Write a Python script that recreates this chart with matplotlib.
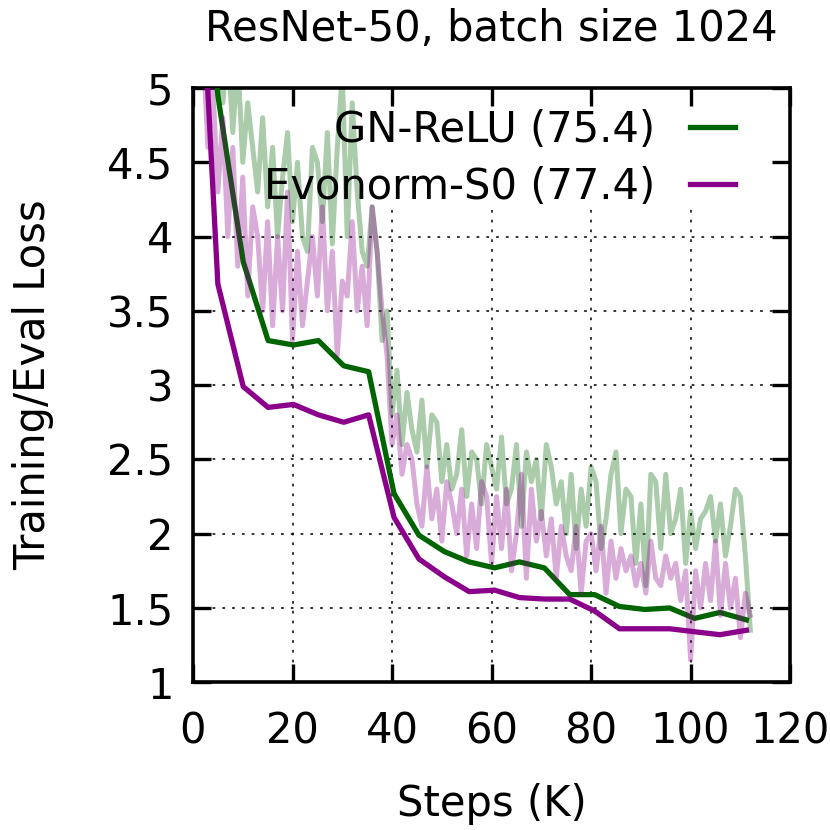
import matplotlib
matplotlib.use("Agg")
import matplotlib.pyplot as plt

# Training loss (light, noisy), logged every 1K steps
train_steps = list(range(2, 113))
gn_train = [6.0, 5.6, 5.3, 5.6, 4.9, 5.3, 4.7, 5.2, 4.5, 4.9,
            4.6, 4.3, 4.8, 4.2, 4.6, 4.0, 4.4, 4.7, 4.1, 4.5,
            4.0, 3.9, 4.6, 4.5, 4.1, 4.7, 3.95, 4.6, 5.1, 4.0,
            4.9, 4.3, 3.9, 3.8, 4.2, 3.9, 3.3, 3.5, 2.8, 3.1,
            2.6, 2.95, 2.7, 2.55, 2.9, 2.45, 2.8, 2.75, 2.35, 2.6,
            2.3, 2.4, 2.7, 2.25, 2.55, 2.5, 2.2, 2.6, 2.45, 2.3,
            2.65, 2.2, 2.3, 2.6, 2.05, 2.55, 2.35, 2.5, 2.1, 2.6,
            2.45, 2.2, 2.35, 2.0, 2.4, 1.9, 2.3, 2.05, 2.45, 2.35,
            1.9, 2.1, 2.4, 2.55, 2.0, 2.3, 2.25, 1.8, 2.2, 1.65,
            2.4, 2.35, 1.9, 2.4, 2.0, 2.1, 2.3, 1.8, 2.15, 1.9,
            2.1, 2.15, 2.25, 1.95, 2.2, 1.85, 2.05, 2.3, 2.25, 1.85,
            1.35]
evo_train = [5.3, 4.6, 5.0, 4.3, 4.8, 4.0, 4.6, 3.8, 4.4, 3.6,
             4.2, 4.0, 3.5, 4.1, 3.4, 4.0, 3.5, 4.3, 3.3, 3.9,
             3.4, 3.7, 4.0, 3.6, 4.2, 3.5, 3.9, 3.2, 3.7, 3.6,
             4.1, 3.5, 3.8, 3.4, 4.2, 3.9, 3.5, 3.2, 2.6, 2.8,
             2.4, 2.6, 2.5, 2.2, 2.05, 2.45, 2.1, 2.3, 1.95, 2.35,
             2.2, 2.0, 2.3, 1.85, 2.2, 1.9, 2.35, 2.25, 1.8, 2.25,
             1.9, 2.3, 1.75, 2.0, 2.4, 1.7, 2.3, 1.95, 2.15, 1.85,
             2.1, 1.7, 2.05, 1.85, 1.75, 2.05, 1.6, 1.95, 2.0, 1.75,
             2.05, 1.6, 1.95, 1.7, 1.9, 1.75, 1.85, 1.65, 1.8, 1.6,
             1.95, 1.7, 1.65, 1.85, 1.7, 1.8, 1.55, 1.75, 1.15, 1.75,
             1.5, 1.8, 1.55, 1.95, 1.45, 1.8, 1.5, 1.7, 1.3, 1.6,
             1.45]

# Eval loss (dark), roughly every 5K steps
eval_steps = [0, 5, 10.1, 15.1, 20.2, 25.2, 30.3, 35.3, 40.4, 45.4, 50.5, 55.5,
              60.6, 65.6, 70.6, 75.7, 80.7, 85.7, 90.8, 95.8, 100.8, 105.9, 111.2]
gn_eval = [6.9, 4.95, 3.83, 3.30, 3.27, 3.30, 3.13, 3.09, 2.27, 1.99, 1.88, 1.81,
           1.77, 1.81, 1.77, 1.59, 1.59, 1.51, 1.49, 1.50, 1.43, 1.47, 1.42]
evo_eval = [6.9, 3.68, 2.99, 2.85, 2.87, 2.80, 2.75, 2.80, 2.11, 1.83, 1.71, 1.61,
            1.62, 1.57, 1.56, 1.56, 1.48, 1.36, 1.36, 1.36, 1.34, 1.32, 1.35]

labels = ["GN-ReLU (75.4)", "Evonorm-S0 (77.4)"]
green = "#006400"
purple = "#8b008b"
fs = 30

plt.rcParams["font.family"] = "DejaVu Sans"
fig = plt.figure(figsize=(8.3, 8.3), dpi=100)
ax = fig.add_axes([0.2325, 0.178, 0.7195, 0.716])

ax.set_xlim(0, 120)
ax.set_ylim(1, 5)

# dotted grid (the key area at the top has none)
for y in [1.5, 2, 2.5, 3, 3.5, 4]:
    ax.axhline(y, color="black", lw=1.1, ls=(0, (1.8, 4.6)), zorder=1)
for x in [20, 40, 60, 80, 100]:
    ax.plot([x, x], [1, 4.2], color="black", lw=1.1, ls=(0, (1.8, 4.6)), zorder=1)

ax.plot(train_steps, gn_train, color=green, alpha=0.33, lw=3.6, zorder=2)
l1, = ax.plot(eval_steps, gn_eval, color=green, lw=3.8, zorder=3)
ax.plot(train_steps, evo_train, color=purple, alpha=0.33, lw=3.6, zorder=4)
l2, = ax.plot(eval_steps, evo_eval, color=purple, lw=3.8, zorder=5)

ax.set_xticks([0, 20, 40, 60, 80, 100, 120])
ax.set_yticks([1, 1.5, 2, 2.5, 3, 3.5, 4, 4.5, 5])
ax.set_yticklabels(["1", "1.5", "2", "2.5", "3", "3.5", "4", "4.5", "5"])
ax.tick_params(direction="in", length=13, width=2.4, labelsize=fs,
               top=True, right=True)
ax.tick_params(axis="y", pad=14)
ax.tick_params(axis="x", pad=20)
for s in ax.spines.values():
    s.set_linewidth(2.6)

ax.set_title("ResNet-50, batch size 1024", fontsize=fs, pad=34)
ax.set_xlabel("Steps (K)", fontsize=fs, labelpad=22)
ax.set_ylabel("Training/Eval Loss", fontsize=fs, labelpad=38)

ax.legend([l1, l2], labels, loc="upper right", bbox_to_anchor=(0.908, 0.965),
          frameon=False, markerfirst=False, fontsize=fs, borderpad=0,
          borderaxespad=0, handlelength=1.08, handletextpad=0.84,
          labelspacing=0.36)

fig.savefig("out.png", dpi=100)
